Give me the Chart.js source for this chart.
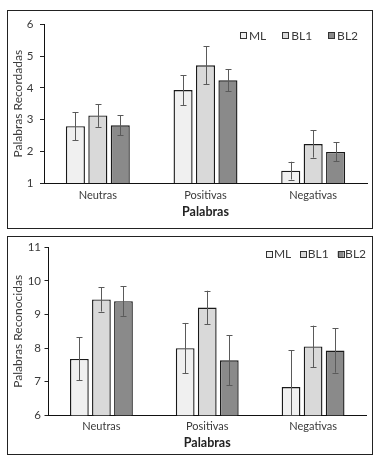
<!DOCTYPE html>
<html><head><meta charset="utf-8">
<script src="https://cdn.jsdelivr.net/npm/chart.js@4/dist/chart.umd.min.js"></script>
<style>
html,body{margin:0;padding:0;background:#fff;width:384px;height:459px;overflow:hidden}
.box{position:absolute;left:7px;width:364px;height:217px;border:1px solid #222;}
#b1{top:10px}
#b2{top:236px}
canvas{display:block}
</style></head><body>
<div class="box" id="b1"><canvas id="c1" width="364" height="217"></canvas></div>
<div class="box" id="b2"><canvas id="c2" width="364" height="217"></canvas></div>
<script>
// ---- data ----
const categories = ['Neutras', 'Positivas', 'Negativas'];
const seriesNames = ['ML', 'BL1', 'BL2'];
const xTitle = 'Palabras';

// Chart 1: Palabras Recordadas
const recTitle = 'Palabras Recordadas';
const recTicks = [1, 2, 3, 4, 5, 6];
const recML  = [2.79, 3.93, 1.39];
const recBL1 = [3.13, 4.71, 2.23];
const recBL2 = [2.82, 4.24, 1.98];
const recErrML  = [0.44, 0.47, 0.28];
const recErrBL1 = [0.36, 0.60, 0.43];
const recErrBL2 = [0.32, 0.35, 0.30];

// Chart 2: Palabras Reconocidas
const conTitle = 'Palabras Reconocidas';
const conTicks = [6, 7, 8, 9, 10, 11];
const conML  = [7.68, 8.00, 6.84];
const conBL1 = [9.45, 9.21, 8.05];
const conBL2 = [9.40, 7.64, 7.93];
const conErrML  = [0.64, 0.75, 1.10];
const conErrBL1 = [0.36, 0.50, 0.62];
const conErrBL2 = [0.44, 0.75, 0.66];

// ---- styles ----
const fills = ['#f0f0f0', '#d9d9d9', '#8a8a8a'];
const FONT = 'Lato, "Open Sans", sans-serif';
const TXT = '#3a3a3a';

const errorBarPlugin = {
  id: 'errorBars',
  afterDatasetsDraw(chart) {
    const {ctx, chartArea, scales} = chart;
    const y = scales.y;
    ctx.save();
    ctx.beginPath();
    ctx.rect(chartArea.left, chartArea.top, chartArea.right - chartArea.left, chartArea.bottom - chartArea.top);
    ctx.clip();
    ctx.strokeStyle = '#5a5a5a';
    ctx.lineWidth = 1;
    chart.data.datasets.forEach((ds, i) => {
      const meta = chart.getDatasetMeta(i);
      meta.data.forEach((bar, j) => {
        const v = ds.data[j], e = ds.errors[j];
        const x = Math.round(bar.x) + 0.5;
        const yt = y.getPixelForValue(v + e), yb = y.getPixelForValue(v - e);
        ctx.beginPath();
        ctx.moveTo(x, yt); ctx.lineTo(x, yb);
        ctx.moveTo(x - 3, Math.round(yt) + 0.5); ctx.lineTo(x + 3, Math.round(yt) + 0.5);
        ctx.moveTo(x - 3, Math.round(yb) + 0.5); ctx.lineTo(x + 3, Math.round(yb) + 0.5);
        ctx.stroke();
      });
    });
    ctx.restore();
  }
};

const boxLegendPlugin = {
  id: 'boxLegend',
  afterDraw(chart, args, opts) {
    const {ctx, chartArea} = chart;
    ctx.save();
    ctx.font = opts.fontSize + 'px ' + FONT;
    ctx.textBaseline = 'middle';
    ctx.textAlign = 'left';
    const items = chart.data.datasets.map(d => ({label: d.label, color: d.backgroundColor, w: ctx.measureText(d.label).width}));
    let total = 0;
    items.forEach((it, i) => { total += opts.box + opts.textGap + it.w + (i < items.length - 1 ? opts.gap : 0); });
    let x = chartArea.right - opts.rightInset - total;
    const yc = chartArea.top + opts.dy;
    items.forEach(it => {
      ctx.fillStyle = it.color;
      ctx.fillRect(x, yc - opts.box / 2, opts.box, opts.box);
      ctx.strokeStyle = '#333';
      ctx.lineWidth = 1;
      ctx.strokeRect(Math.round(x) + 0.5, Math.round(yc - opts.box / 2) + 0.5, opts.box, opts.box);
      x += opts.box + opts.textGap;
      ctx.fillStyle = TXT;
      ctx.fillText(it.label, x, yc + 0.5);
      x += it.w + opts.gap;
    });
    ctx.restore();
  }
};

function makeChart(id, vals, errs, ticks, yTitle, cfg) {
  return new Chart(document.getElementById(id), {
    type: 'bar',
    data: {
      labels: categories,
      datasets: seriesNames.map((n, i) => ({
        label: n,
        data: vals[i],
        errors: errs[i],
        backgroundColor: fills[i],
        borderColor: '#1a1a1a',
        borderWidth: 1.4,
        borderSkipped: 'start',
        categoryPercentage: 0.625,
        barPercentage: 0.85
      }))
    },
    options: {
      responsive: false,
      animation: false,
      devicePixelRatio: 1,
      layout: {padding: cfg.padding},
      plugins: {
        legend: {display: false},
        tooltip: {enabled: false},
        boxLegend: cfg.legend
      },
      scales: {
        x: {
          grid: {display: false, drawTicks: false},
          border: {display: true, color: '#111', width: 1},
          ticks: {color: TXT, font: {family: FONT, size: 11}, padding: cfg.xPad},
          title: {display: true, text: xTitle, color: '#222', font: {family: FONT, size: 12.5, weight: 'bold'}, padding: {top: 0, bottom: 0}},
          afterFit: s => { s.height = cfg.xHeight; }
        },
        y: {
          min: ticks[0], max: ticks[ticks.length - 1],
          afterBuildTicks: s => { s.ticks = ticks.map(v => ({value: v})); },
          grid: {drawOnChartArea: false, drawTicks: true, tickLength: 4, color: '#222'},
          border: {display: true, color: '#111', width: 1},
          ticks: {color: TXT, font: {family: FONT, size: 11.5}, padding: cfg.yPad},
          title: {display: true, text: yTitle, color: TXT, font: {family: FONT, size: 12}, padding: {top: 3, bottom: 0}},
          afterFit: s => { s.width = cfg.yWidth; }
        }
      }
    },
    plugins: [errorBarPlugin, boxLegendPlugin]
  });
}

makeChart('c1', [recML, recBL1, recBL2], [recErrML, recErrBL1, recErrBL2], recTicks, recTitle, {
  padding: {left: 0, top: 11, right: 5, bottom: 9},
  xHeight: 36, xPad: 6, yWidth: 36, yPad: 6.5,
  legend: {dy: 11, rightInset: 9, gap: 16, textGap: 3, box: 6, fontSize: 12}
});
makeChart('c2', [conML, conBL1, conBL2], [conErrML, conErrBL1, conErrBL2], conTicks, conTitle, {
  padding: {left: 0, top: 10.3, right: 6, bottom: 3.5},
  xHeight: 35.2, xPad: 5, yWidth: 40.5, yPad: 3.5,
  legend: {dy: 6.7, rightInset: 0, gap: 9, textGap: 1.5, box: 6, fontSize: 12}
});
</script>
</body></html>
